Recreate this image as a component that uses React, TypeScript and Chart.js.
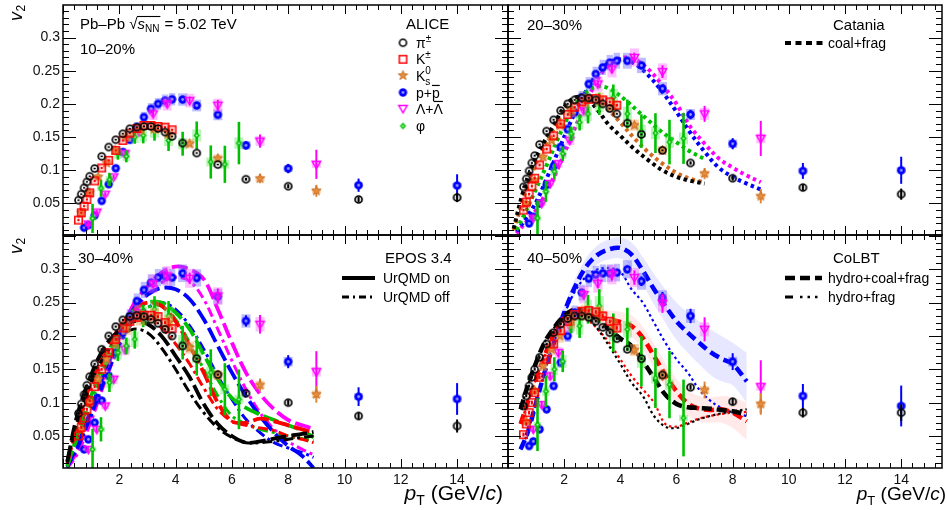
import React, { useEffect, useRef } from 'react';
import { Chart, registerables } from 'chart.js';

Chart.register(...registerables);

const FF = '"Liberation Sans", Arimo, Arial, Helvetica, sans-serif';

// ---------- pT bin centres (GeV/c) ----------
const piPt = [0.55, 0.65, 0.75, 0.85, 0.95, 1.125, 1.375, 1.625, 1.875, 2.125, 2.375, 2.625, 2.875, 3.125, 3.375, 3.625, 3.875, 4.25, 4.75, 5.5, 6.5, 8, 10.5, 14];
const kchPt = [0.55, 0.65, 0.75, 0.85, 0.95, 1.125, 1.375, 1.625, 1.875, 2.125, 2.375, 2.625, 2.875, 3.125, 3.375, 3.625, 3.875];
const k0Pt = [0.65, 0.95, 1.25, 1.55, 1.85, 2.25, 2.75, 3.25, 3.75, 4.5, 5.5, 7, 9];
const pPt = [0.75, 0.9, 1.125, 1.375, 1.625, 1.875, 2.125, 2.375, 2.625, 2.875, 3.125, 3.375, 3.625, 3.875, 4.25, 4.75, 5.5, 6.5, 8, 10.5, 14];
const lamPt = [0.9, 1.2, 1.5, 1.8, 2.2, 2.7, 3.2, 3.7, 4.5, 5.5, 7, 9];
const phiPt = [1.05, 1.35, 1.65, 1.95, 2.25, 2.55, 2.85, 3.25, 3.75, 4.25, 4.75, 5.25, 5.75, 6.25];

// ---------- v2, 10-20% ----------
const pi1020 = [0.055, 0.064, 0.0735, 0.0825, 0.091, 0.1026, 0.121, 0.135, 0.146, 0.155, 0.1626, 0.165, 0.166, 0.166, 0.163, 0.1575, 0.151, 0.141, 0.126, 0.1086, 0.0865, 0.076, 0.056, 0.059];
const kch1020 = [0.025, 0.036, 0.046, 0.056, 0.066, 0.084, 0.1035, 0.115, 0.13, 0.145, 0.156, 0.163, 0.1675, 0.1675, 0.166, 0.165, 0.161];
const k01020 = [0.036, 0.066, 0.09, 0.111, 0.13, 0.15, 0.162, 0.163, 0.155, 0.14, 0.118, 0.0875, 0.069];
const p1020 = [0.0135, 0.0175, 0.032, 0.054, 0.079, 0.103, 0.1275, 0.146, 0.165, 0.18, 0.1926, 0.2, 0.205, 0.207, 0.2066, 0.1976, 0.1836, 0.1376, 0.1026, 0.0775, 0.077];
const lam1020 = [0.019, 0.037, 0.064, 0.09, 0.125, 0.158, 0.185, 0.2, 0.205, 0.198, 0.144, 0.109];
const phi1020 = [0.0275, 0.073, 0.086, 0.125, 0.121, 0.15, 0.1525, 0.1586, 0.145, 0.14, 0.1525, 0.1125, 0.109, 0.141];

// ---------- v2, 20-30% ----------
const pi2030 = [0.075, 0.087, 0.099, 0.111, 0.122, 0.139, 0.159, 0.176, 0.19, 0.2, 0.206, 0.209, 0.209, 0.206, 0.2, 0.193, 0.185, 0.171, 0.154, 0.13, 0.111, 0.088, 0.074, 0.064];
const kch2030 = [0.04, 0.052, 0.064, 0.076, 0.088, 0.108, 0.132, 0.152, 0.17, 0.184, 0.195, 0.203, 0.207, 0.208, 0.206, 0.203, 0.198];
const k02030 = [0.05, 0.085, 0.12, 0.145, 0.168, 0.19, 0.205, 0.207, 0.196, 0.168, 0.13, 0.095, 0.061];
const p2030 = [0.02, 0.03, 0.05, 0.078, 0.106, 0.135, 0.162, 0.187, 0.21, 0.23, 0.245, 0.255, 0.262, 0.265, 0.265, 0.258, 0.223, 0.184, 0.14, 0.099, 0.1];
const lam2030 = [0.028, 0.05, 0.08, 0.11, 0.145, 0.19, 0.23, 0.2526, 0.27, 0.2486, 0.185, 0.148];
const phi2030 = [0.028, 0.068, 0.098, 0.125, 0.155, 0.172, 0.185, 0.2, 0.21, 0.185, 0.159, 0.156, 0.1425, 0.148];

// ---------- v2, 30-40% ----------
const pi3040 = [0.084, 0.098, 0.112, 0.126, 0.139, 0.158, 0.18, 0.2, 0.214, 0.224, 0.229, 0.231, 0.229, 0.225, 0.219, 0.21, 0.2, 0.185, 0.166, 0.142, 0.114, 0.1, 0.08, 0.065];
const kch3040 = [0.05, 0.063, 0.077, 0.09, 0.103, 0.124, 0.15, 0.175, 0.195, 0.212, 0.222, 0.228, 0.231, 0.231, 0.229, 0.22, 0.211];
const k03040 = [0.06, 0.1, 0.135, 0.165, 0.19, 0.212, 0.227, 0.23, 0.22, 0.1825, 0.1415, 0.1265, 0.1125];
const p3040 = [0.03, 0.045, 0.07, 0.103, 0.14, 0.175, 0.205, 0.23, 0.2524, 0.269, 0.28, 0.2875, 0.29, 0.2875, 0.294, 0.287, 0.259, 0.2225, 0.1614, 0.109, 0.1055];
const lam3040 = [0.03, 0.06, 0.095, 0.135, 0.18, 0.235, 0.278, 0.29, 0.2865, 0.26, 0.2175, 0.1464];
const phi3040 = [0.03, 0.06, 0.13, 0.175, 0.185, 0.195, 0.23, 0.24, 0.23, 0.19, 0.17, 0.145, 0.12, 0.105];

// ---------- v2, 40-50% ----------
const pi4050 = [0.095, 0.11, 0.125, 0.138, 0.15, 0.168, 0.188, 0.205, 0.218, 0.226, 0.23, 0.23, 0.228, 0.222, 0.213, 0.205, 0.196, 0.18, 0.166, 0.1415, 0.123, 0.1015, 0.085, 0.085];
const kch4050 = [0.052, 0.068, 0.085, 0.1, 0.115, 0.138, 0.165, 0.188, 0.208, 0.222, 0.232, 0.237, 0.238, 0.236, 0.23, 0.222, 0.212];
const k04050 = [0.072, 0.118, 0.155, 0.18, 0.2, 0.222, 0.235, 0.233, 0.215, 0.179, 0.1415, 0.119, 0.098];
const p4050 = [0.035, 0.042, 0.06, 0.09, 0.125, 0.16, 0.2, 0.235, 0.265, 0.286, 0.292, 0.294, 0.294, 0.295, 0.3, 0.282, 0.257, 0.23, 0.1615, 0.11, 0.095];
const lam4050 = [0.06, 0.097, 0.14, 0.175, 0.215, 0.262, 0.279, 0.292, 0.2875, 0.249, 0.21, 0.124];
const phi4050 = [0.067, 0.117, 0.15, 0.162, 0.22, 0.215, 0.24, 0.245, 0.205, 0.21, 0.162, 0.137, 0.127, 0.077];

// ---------- statistical uncertainties ----------
const piErr = [0.001, 0.001, 0.001, 0.001, 0.001, 0.001, 0.001, 0.001, 0.001, 0.001, 0.001, 0.001, 0.001, 0.001, 0.001, 0.001, 0.001, 0.001, 0.001, 0.001, 0.002, 0.003, 0.004, 0.007];
const kchErr = [0.0015, 0.0015, 0.0015, 0.0015, 0.0015, 0.0015, 0.0015, 0.0015, 0.0015, 0.0015, 0.0015, 0.0015, 0.0015, 0.0015, 0.0015, 0.0015, 0.0015];
const k0Err = [0.002, 0.002, 0.002, 0.002, 0.002, 0.002, 0.002, 0.003, 0.003, 0.004, 0.005, 0.007, 0.009];
const pErr = [0.002, 0.002, 0.002, 0.002, 0.002, 0.002, 0.002, 0.002, 0.002, 0.002, 0.002, 0.002, 0.002, 0.002, 0.003, 0.004, 0.005, 0.006, 0.007, 0.01, 0.017];
const lamErr = [0.003, 0.003, 0.003, 0.003, 0.003, 0.004, 0.004, 0.005, 0.006, 0.008, 0.01, 0.022];
const phiErr = [0.022, 0.013, 0.01, 0.009, 0.009, 0.01, 0.012, 0.014, 0.016, 0.018, 0.021, 0.025, 0.028, 0.032];
const errScale = [1, 1.2, 1.4, 1.8];

// ---------- Catania (20-30%) ----------
const catXa = [0.2, 0.5, 0.8, 1.2, 1.6, 2.0, 2.4, 2.8, 3.2, 3.6, 4.0, 4.5, 5.0, 5.5, 6.0, 6.5, 7.0];
const catPi = [0.012, 0.062, 0.1, 0.136, 0.166, 0.195, 0.21, 0.208, 0.19, 0.168, 0.152, 0.132, 0.115, 0.1, 0.09, 0.084, 0.08];
const catK = [0.01, 0.05, 0.09, 0.128, 0.16, 0.19, 0.207, 0.212, 0.205, 0.19, 0.172, 0.148, 0.127, 0.11, 0.096, 0.087, 0.082];
const catXb = [0.3, 0.6, 1.0, 1.4, 1.8, 2.2, 2.6, 3.0, 3.4, 3.8, 4.2, 4.6, 5.0, 5.5, 6.0, 6.5, 7.0];
const catPhi = [0.01, 0.035, 0.072, 0.11, 0.15, 0.185, 0.21, 0.224, 0.226, 0.218, 0.205, 0.19, 0.175, 0.157, 0.142, 0.128, 0.117];
const catXc = [0.3, 0.6, 1.0, 1.4, 1.8, 2.2, 2.6, 3.0, 3.4, 3.8, 4.2, 4.6, 5.0, 5.5, 6.0, 6.5, 7.0, 7.5, 8.0, 8.5, 9.0];
const catP = [0.008, 0.025, 0.052, 0.09, 0.13, 0.17, 0.205, 0.235, 0.256, 0.266, 0.266, 0.258, 0.243, 0.218, 0.188, 0.156, 0.128, 0.104, 0.09, 0.08, 0.071];
const catL = [0.005, 0.02, 0.04, 0.07, 0.105, 0.145, 0.185, 0.222, 0.25, 0.265, 0.27, 0.265, 0.252, 0.228, 0.2, 0.165, 0.14, 0.118, 0.104, 0.092, 0.082];

// ---------- EPOS 3.4 (30-40%) ----------
const epX = [0.15, 0.5, 1.0, 1.5, 2.0, 2.5, 3.0, 3.5, 4.0, 4.5, 5.0, 5.5, 6.0, 6.5, 7.0, 7.5, 8.0, 8.5, 8.9];
const epPiOn = [0.012, 0.08, 0.142, 0.185, 0.208, 0.222, 0.218, 0.2, 0.17, 0.138, 0.098, 0.068, 0.05, 0.04, 0.042, 0.046, 0.05, 0.053, 0.056];
const epPiOff = [0.01, 0.07, 0.13, 0.172, 0.198, 0.21, 0.205, 0.182, 0.15, 0.115, 0.085, 0.062, 0.048, 0.04, 0.04, 0.042, 0.045, 0.048, 0.05];
const epKOn = [0.01, 0.07, 0.13, 0.178, 0.212, 0.238, 0.25, 0.245, 0.222, 0.185, 0.145, 0.1, 0.072, 0.07, 0.076, 0.072, 0.066, 0.06, 0.055];
const epKOff = [0.008, 0.062, 0.12, 0.168, 0.2, 0.222, 0.226, 0.212, 0.188, 0.158, 0.122, 0.09, 0.072, 0.066, 0.062, 0.058, 0.05, 0.045, 0.04];
const epPhiOn = [0.005, 0.05, 0.11, 0.165, 0.208, 0.238, 0.25, 0.25, 0.235, 0.21, 0.172, 0.135, 0.107, 0.092, 0.082, 0.074, 0.066, 0.058, 0.048];
const epPhiOff = [0.004, 0.045, 0.1, 0.155, 0.198, 0.228, 0.243, 0.245, 0.225, 0.19, 0.15, 0.11, 0.08, 0.068, 0.06, 0.055, 0.05, 0.046, 0.043];
const epPOn = [0.004, 0.035, 0.09, 0.15, 0.2, 0.24, 0.262, 0.272, 0.27, 0.255, 0.225, 0.185, 0.145, 0.11, 0.08, 0.055, 0.035, 0.02, 0.002];
const epPOff = [0.003, 0.03, 0.08, 0.135, 0.185, 0.222, 0.242, 0.25, 0.24, 0.215, 0.18, 0.14, 0.105, 0.075, 0.055, 0.04, 0.032, 0.025, 0.018];
const epLOn = [0.002, 0.028, 0.082, 0.145, 0.198, 0.247, 0.274, 0.295, 0.304, 0.3, 0.285, 0.24, 0.19, 0.145, 0.113, 0.09, 0.074, 0.066, 0.061];
const epLOff = [0.002, 0.022, 0.072, 0.132, 0.185, 0.232, 0.262, 0.28, 0.288, 0.282, 0.255, 0.21, 0.163, 0.12, 0.085, 0.06, 0.042, 0.03, 0.022];

// ---------- CoLBT (40-50%) ----------
const colX = [0.45, 0.7, 1.0, 1.3, 1.6, 2.0, 2.4, 2.8, 3.2, 3.6, 4.0, 4.4, 4.8, 5.2, 5.6, 6.0, 6.4, 6.8, 7.2, 7.6, 8.0, 8.5];
const colPiCoal = [0.09, 0.125, 0.16, 0.19, 0.21, 0.23, 0.24, 0.235, 0.224, 0.21, 0.196, 0.185, 0.162, 0.137, 0.112, 0.098, 0.093, 0.092, 0.091, 0.089, 0.087, 0.082];
const colPiFrag = [0.09, 0.125, 0.16, 0.19, 0.21, 0.228, 0.235, 0.228, 0.21, 0.185, 0.158, 0.13, 0.11, 0.08, 0.064, 0.062, 0.068, 0.075, 0.08, 0.084, 0.087, 0.09];
const colKCoal = [0.068, 0.1, 0.135, 0.17, 0.2, 0.228, 0.236, 0.232, 0.228, 0.225, 0.221, 0.215, 0.197, 0.17, 0.142, 0.117, 0.099, 0.091, 0.089, 0.09, 0.085, 0.072];
const colKFrag = [0.068, 0.1, 0.135, 0.17, 0.2, 0.226, 0.232, 0.225, 0.21, 0.19, 0.165, 0.14, 0.12, 0.1, 0.068, 0.064, 0.07, 0.076, 0.08, 0.083, 0.085, 0.086];
const colPCoal = [0.03, 0.055, 0.1, 0.145, 0.185, 0.235, 0.275, 0.305, 0.322, 0.33, 0.332, 0.322, 0.298, 0.27, 0.245, 0.222, 0.205, 0.19, 0.176, 0.166, 0.158, 0.132];
const colPFrag = [0.03, 0.055, 0.1, 0.145, 0.185, 0.232, 0.268, 0.29, 0.3, 0.302, 0.296, 0.27, 0.25, 0.22, 0.19, 0.165, 0.145, 0.12, 0.103, 0.092, 0.085, 0.08];
const colPBandHi = [0.035, 0.06, 0.106, 0.152, 0.193, 0.245, 0.287, 0.318, 0.336, 0.345, 0.348, 0.34, 0.318, 0.293, 0.27, 0.25, 0.235, 0.222, 0.21, 0.2, 0.19, 0.175];
const colPBandLo = [0.025, 0.05, 0.094, 0.138, 0.177, 0.225, 0.263, 0.292, 0.308, 0.315, 0.316, 0.304, 0.278, 0.247, 0.22, 0.194, 0.175, 0.158, 0.142, 0.132, 0.126, 0.1];
const colKBandHi = [0.072, 0.104, 0.14, 0.175, 0.205, 0.234, 0.244, 0.242, 0.24, 0.238, 0.236, 0.231, 0.214, 0.188, 0.16, 0.136, 0.118, 0.11, 0.108, 0.11, 0.108, 0.1];
const colKBandLo = [0.064, 0.096, 0.13, 0.165, 0.195, 0.222, 0.228, 0.222, 0.216, 0.212, 0.206, 0.199, 0.18, 0.152, 0.124, 0.098, 0.08, 0.072, 0.07, 0.07, 0.062, 0.044];

// ---------- axis tick labels ----------
const xTickVals = [2, 4, 6, 8, 10, 12, 14];
const yTickVals = [0.05, 0.1, 0.15, 0.2, 0.25, 0.3];

// ---------- styles ----------
const COL: any = { pi: '#000000', kch: '#ff0000', k0: '#e0873a', p: '#0000ff', lam: '#ff00ff', phi: '#00c000' };
const BOX: any = {
  pi: 'rgba(110,110,110,0.25)', kch: 'rgba(255,90,90,0.3)', k0: 'rgba(245,160,80,0.45)',
  p: 'rgba(90,90,255,0.4)', lam: 'rgba(255,90,255,0.38)', phi: 'rgba(70,225,70,0.38)'
};
const SYS: any = { pi: 0.03, kch: 0.03, k0: 0.05, p: 0.045, lam: 0.05, phi: 0.06 };

function mk(draw: (c: CanvasRenderingContext2D) => void, size = 13) {
  const cv = document.createElement('canvas');
  cv.width = size; cv.height = size;
  const c = cv.getContext('2d')!;
  c.translate(size / 2, size / 2);
  draw(c);
  return cv;
}

function makeMarkers() {
  return {
    pi: mk(c => { c.beginPath(); c.arc(0, 0, 3.5, 0, Math.PI * 2); c.lineWidth = 1.6; c.strokeStyle = '#000'; c.stroke(); }),
    kch: mk(c => { c.lineWidth = 1.5; c.strokeStyle = '#ff0000'; c.strokeRect(-3.7, -3.7, 7.4, 7.4); }),
    k0: mk(c => {
      c.beginPath();
      for (let i = 0; i < 10; i++) {
        const r = i % 2 === 0 ? 5 : 2.1;
        const a = -Math.PI / 2 + (i * Math.PI) / 5;
        const x = r * Math.cos(a), y = r * Math.sin(a);
        if (i === 0) c.moveTo(x, y); else c.lineTo(x, y);
      }
      c.closePath(); c.fillStyle = '#e68e3c'; c.fill(); c.lineWidth = 0.8; c.strokeStyle = '#c0641a'; c.stroke();
    }),
    p: mk(c => {
      c.beginPath(); c.arc(0, 0, 4.2, 0, Math.PI * 2); c.fillStyle = '#0000ff'; c.fill();
      c.beginPath(); c.arc(0, 0, 1.4, 0, Math.PI * 2); c.fillStyle = '#9a9aff'; c.fill();
    }),
    lam: mk(c => {
      c.beginPath(); c.moveTo(-4.2, -3); c.lineTo(4.2, -3); c.lineTo(0, 4.3); c.closePath();
      c.lineWidth = 1.5; c.strokeStyle = '#ff00ff'; c.stroke();
    }),
    phi: mk(c => {
      c.beginPath(); c.moveTo(0, -3.6); c.lineTo(3.2, 0); c.lineTo(0, 3.6); c.lineTo(-3.2, 0); c.closePath();
      c.fillStyle = '#00c000'; c.fill();
      c.beginPath(); c.arc(0, 0, 1.1, 0, Math.PI * 2); c.fillStyle = '#b8ffb8'; c.fill();
    }),
  } as any;
}

type Part = { s: string; size?: number; it?: boolean; dy?: number; over?: boolean; stay?: boolean; dx?: number };
function rich(ctx: CanvasRenderingContext2D, x: number, y: number, parts: Part[], base = 15, draw = true) {
  ctx.textBaseline = 'alphabetic';
  ctx.textAlign = 'left';
  ctx.fillStyle = '#000';
  let cx = x;
  for (const p of parts) {
    const size = p.size ?? base;
    ctx.font = `${p.it ? 'italic ' : ''}${size}px ${FF}`;
    cx += p.dx ?? 0;
    const yy = y + (p.dy ?? 0);
    if (draw) ctx.fillText(p.s, cx, yy);
    const w = ctx.measureText(p.s).width;
    if (p.over && draw) {
      ctx.strokeStyle = '#000'; ctx.lineWidth = 1.2;
      ctx.beginPath(); ctx.moveTo(cx, yy - size * 0.86); ctx.lineTo(cx + w, yy - size * 0.86); ctx.stroke();
    }
    if (!p.stay) cx += w;
  }
  return cx;
}

function legLine(ctx: CanvasRenderingContext2D, x1: number, x2: number, y: number, w: number, dash: number[]) {
  ctx.save();
  ctx.strokeStyle = '#000'; ctx.lineWidth = w; ctx.setLineDash(dash); ctx.lineCap = 'butt';
  ctx.beginPath(); ctx.moveTo(x1, y); ctx.lineTo(x2, y); ctx.stroke();
  ctx.restore();
}

function pts(sp: string, xs: number[], ys: number[], errs: number[], k: number, markers: any) {
  return {
    type: 'scatter', label: sp,
    data: xs.map((x, i) => ({ x, y: ys[i] })),
    pointStyle: markers[sp], pointRadius: 4, pointHoverRadius: 4,
    borderColor: COL[sp], backgroundColor: COL[sp],
    order: 0, errs, errK: k, sysFrac: SYS[sp], boxColor: BOX[sp], barColor: COL[sp],
    barWidth: sp === 'phi' ? 2.6 : 2,
  };
}

function curve(xs: number[], ys: number[], color: string, dash: number[], width: number, order = 10) {
  return {
    type: 'line', data: xs.map((x, i) => ({ x, y: ys[i] })),
    borderColor: color, borderWidth: width, borderDash: dash, borderCapStyle: 'butt',
    pointRadius: 0, pointHoverRadius: 0, fill: false, tension: 0.35, order,
  };
}

function band(xs: number[], hi: number[], lo: number[], color: string) {
  return [
    { type: 'line', data: xs.map((x, i) => ({ x, y: hi[i] })), borderWidth: 0, borderColor: 'rgba(0,0,0,0)', pointRadius: 0, fill: false, tension: 0.35, order: 20 },
    { type: 'line', data: xs.map((x, i) => ({ x, y: lo[i] })), borderWidth: 0, borderColor: 'rgba(0,0,0,0)', pointRadius: 0, fill: '-1', backgroundColor: color, tension: 0.35, order: 20 },
  ];
}

const DOT = [3.5, 3.5];
const ON = [16, 5];
const OFF = [10, 4, 3, 4];
const COAL = [10, 5];
const FRAG = [2.5, 3];

function speciesSets(idx: number, m: any, v: any) {
  const k = errScale[idx];
  return [
    pts('pi', piPt, v.pi, piErr, k, m),
    pts('kch', kchPt, v.kch, kchErr, k, m),
    pts('k0', k0Pt, v.k0, k0Err, k, m),
    pts('phi', phiPt, v.phi, phiErr, k, m),
    pts('lam', lamPt, v.lam, lamErr, k, m),
    pts('p', pPt, v.p, pErr, k, m),
  ];
}

function legendTL(ctx: CanvasRenderingContext2D, m: any) {
  rich(ctx, 80, 28.5, [{ s: 'Pb–Pb ' }, { s: '√' }]);
  ctx.font = `15px ${FF}`;
  const x0 = 80 + ctx.measureText('Pb–Pb ').width;
  const xr = x0 + ctx.measureText('√').width - 0.5;
  const xe = rich(ctx, xr + 0.5, 28.5, [{ s: 's', it: true }, { s: 'NN', size: 10, dy: 3.5 }]);
  ctx.strokeStyle = '#000'; ctx.lineWidth = 1.1;
  ctx.beginPath(); ctx.moveTo(xr, 16.5); ctx.lineTo(xe + 1, 16.5); ctx.stroke();
  rich(ctx, xe + 1, 28.5, [{ s: ' = 5.02 TeV' }]);
  rich(ctx, 80, 53.5, [{ s: '10–20%' }]);
  rich(ctx, 406, 28.5, [{ s: 'ALICE' }]);
  const ys = [42.7, 59.3, 75.5, 92.5, 108.5, 126];
  const keys = ['pi', 'kch', 'k0', 'p', 'lam', 'phi'];
  keys.forEach((k, i) => {
    const img = m[k];
    ctx.drawImage(img, 403 - img.width / 2, ys[i] - img.height / 2);
  });
  const b = (i: number) => ys[i] + 5;
  rich(ctx, 416, b(0), [{ s: 'π' }, { s: '±', size: 10, dy: -6 }], 14);
  rich(ctx, 416, b(1), [{ s: 'K' }, { s: '±', size: 10, dy: -6 }], 14);
  rich(ctx, 416, b(2), [{ s: 'K' }, { s: '0', size: 10, dy: -7, stay: true }, { s: 's', size: 10, dy: 4 }], 14);
  rich(ctx, 416, b(3), [{ s: 'p+' }, { s: 'p', over: true }], 14);
  rich(ctx, 416, b(4), [{ s: 'Λ+' }, { s: 'Λ', over: true }], 14);
  rich(ctx, 416, b(5), [{ s: 'φ' }], 14);
}

function legendTR(ctx: CanvasRenderingContext2D) {
  rich(ctx, 527, 29.5, [{ s: '20–30%' }]);
  rich(ctx, 833, 29.5, [{ s: 'Catania' }]);
  legLine(ctx, 785, 823, 43, 4, [6, 4.5]);
  rich(ctx, 828, 48, [{ s: 'coal+frag' }], 14);
}

function legendBL(ctx: CanvasRenderingContext2D) {
  rich(ctx, 78, 262.5, [{ s: '30–40%' }]);
  rich(ctx, 385, 262.5, [{ s: 'EPOS 3.4' }]);
  legLine(ctx, 342, 375, 278, 4, []);
  rich(ctx, 383, 283, [{ s: 'UrQMD on' }], 14);
  legLine(ctx, 342, 375, 297, 3, [7, 4, 2, 4]);
  rich(ctx, 383, 302, [{ s: 'UrQMD off' }], 14);
}

function legendBR(ctx: CanvasRenderingContext2D) {
  rich(ctx, 527, 262.5, [{ s: '40–50%' }]);
  rich(ctx, 833, 262.5, [{ s: 'CoLBT' }]);
  legLine(ctx, 785, 822, 278, 4.5, [10, 5]);
  rich(ctx, 828, 283, [{ s: 'hydro+coal+frag' }], 14);
  legLine(ctx, 785, 793, 297, 3, []);
  legLine(ctx, 800, 822, 297, 2.5, [2.5, 5]);
  rich(ctx, 828, 302, [{ s: 'hydro+frag' }], 14);
}

function v2Label(ctx: CanvasRenderingContext2D, y: number) {
  ctx.save();
  ctx.translate(22, y);
  ctx.rotate(-Math.PI / 2);
  ctx.fillStyle = '#000';
  ctx.textBaseline = 'alphabetic';
  ctx.font = `italic 18px ${FF}`;
  ctx.fillText('v', 0, 0);
  const w = ctx.measureText('v').width;
  ctx.font = `12px ${FF}`;
  ctx.fillText('2', w + 0.5, 3);
  ctx.restore();
}

// axis title p_T (GeV/c), right-aligned at xRight
function ptTitle(ctx: CanvasRenderingContext2D, xRight: number, size: number) {
  const parts: Part[] = [
    { s: 'p', it: true }, { s: 'T', size: Math.round(size * 0.68), dy: 5 }, { s: ' (GeV/' }, { s: 'c', it: true }, { s: ')' },
  ];
  const w = rich(ctx, 0, 0, parts, size, false);
  rich(ctx, xRight - w, 500, parts, size);
}

const PANELS = [
  { key: 'tl', left: 63, top: 4, right: 508, bottom: 235, yMin: 0.0025, yMax: 0.349, showX: false, showY: true },
  { key: 'tr', left: 508, top: 4, right: 943, bottom: 235, yMin: 0.0025, yMax: 0.349, showX: false, showY: false },
  { key: 'bl', left: 63, top: 235, right: 508, bottom: 468, yMin: 0.002, yMax: 0.3514, showX: true, showY: true },
  { key: 'br', left: 508, top: 235, right: 943, bottom: 468, yMin: 0.002, yMax: 0.3514, showX: true, showY: false },
];
const PX_PER_GEV = 28.15;

function buildConfig(idx: number, m: any) {
  const P = PANELS[idx];
  const xMax = (P.right - P.left) / PX_PER_GEV;
  let datasets: any[] = [];
  if (idx === 0) {
    datasets = speciesSets(0, m, { pi: pi1020, kch: kch1020, k0: k01020, p: p1020, lam: lam1020, phi: phi1020 });
  } else if (idx === 1) {
    datasets = [
      ...speciesSets(1, m, { pi: pi2030, kch: kch2030, k0: k02030, p: p2030, lam: lam2030, phi: phi2030 }),
      curve(catXa, catPi, '#000000', DOT, 4),
      curve(catXa, catK, '#d2691e', DOT, 4),
      curve(catXb, catPhi, '#00c000', DOT, 4),
      curve(catXc, catP, '#0000ff', DOT, 4),
      curve(catXc, catL, '#ff00ff', DOT, 4),
    ];
  } else if (idx === 2) {
    datasets = [
      ...speciesSets(2, m, { pi: pi3040, kch: kch3040, k0: k03040, p: p3040, lam: lam3040, phi: phi3040 }),
      curve(epX, epPiOn, '#000000', ON, 3.8),
      curve(epX, epPiOff, '#000000', OFF, 3),
      curve(epX, epKOn, '#ff0000', ON, 3.8),
      curve(epX, epKOff, '#ff0000', OFF, 3),
      curve(epX, epPhiOn, '#00c000', ON, 3.8),
      curve(epX, epPhiOff, '#00c000', OFF, 3),
      curve(epX, epPOn, '#0000ff', ON, 3.8),
      curve(epX, epPOff, '#0000ff', OFF, 3),
      curve(epX, epLOn, '#ff00ff', ON, 3.8),
      curve(epX, epLOff, '#ff00ff', OFF, 3),
    ];
  } else {
    datasets = [
      ...speciesSets(3, m, { pi: pi4050, kch: kch4050, k0: k04050, p: p4050, lam: lam4050, phi: phi4050 }),
      curve(colX, colPiCoal, '#000000', COAL, 4.5),
      curve(colX, colPiFrag, '#000000', FRAG, 2.2),
      curve(colX, colKCoal, '#ff0000', COAL, 4.5),
      curve(colX, colKFrag, '#ff0000', FRAG, 2.2),
      curve(colX, colPCoal, '#0000ff', COAL, 4.5),
      curve(colX, colPFrag, '#0000ff', FRAG, 2.2),
      ...band(colX, colPBandHi, colPBandLo, 'rgba(70,70,255,0.13)'),
      ...band(colX, colKBandHi, colKBandLo, 'rgba(255,70,70,0.12)'),
    ];
  }

  const deco = {
    id: 'deco_' + P.key,
    beforeDatasetDraw(chart: any, args: any) {
      const ds = chart.data.datasets[args.index];
      if (!ds.errs) return;
      const ctx = chart.ctx as CanvasRenderingContext2D;
      const xs = chart.scales.x, ys = chart.scales.y, a = chart.chartArea;
      ctx.save();
      ctx.beginPath(); ctx.rect(a.left, a.top, a.right - a.left, a.bottom - a.top); ctx.clip();
      const pxs = ds.data.map((d: any) => xs.getPixelForValue(d.x));
      ds.data.forEach((d: any, i: number) => {
        const gapL = i > 0 ? pxs[i] - pxs[i - 1] : 99;
        const gapR = i < pxs.length - 1 ? pxs[i + 1] - pxs[i] : 99;
        const hw = Math.min(4.5, 0.45 * Math.min(gapL, gapR));
        const s = Math.max(d.y * ds.sysFrac, 0.004);
        const y1 = ys.getPixelForValue(d.y + s), y2 = ys.getPixelForValue(d.y - s);
        ctx.fillStyle = ds.boxColor;
        ctx.fillRect(pxs[i] - hw, y1, 2 * hw, y2 - y1);
      });
      ctx.strokeStyle = ds.barColor; ctx.lineWidth = ds.barWidth;
      ds.data.forEach((d: any, i: number) => {
        const e = ds.errs[i] * ds.errK;
        ctx.beginPath();
        ctx.moveTo(pxs[i], ys.getPixelForValue(d.y + e));
        ctx.lineTo(pxs[i], ys.getPixelForValue(d.y - e));
        ctx.stroke();
      });
      ctx.restore();
    },
    afterDraw(chart: any) {
      const ctx = chart.ctx as CanvasRenderingContext2D;
      const a = chart.chartArea;
      const xs = chart.scales.x, ys = chart.scales.y;
      ctx.save();
      ctx.strokeStyle = '#000';
      ctx.lineWidth = 1;
      ctx.beginPath();
      for (let i = 0; i * 0.4 <= xs.max + 1e-9; i++) {
        const px = Math.round(xs.getPixelForValue(i * 0.4)) + 0.5;
        const L = i % 5 === 0 ? 9 : 5;
        ctx.moveTo(px, a.bottom); ctx.lineTo(px, a.bottom - L);
        ctx.moveTo(px, a.top); ctx.lineTo(px, a.top + L);
      }
      for (let i = 1; i * 0.01 <= ys.max + 1e-9; i++) {
        const v = i * 0.01;
        if (v < ys.min) continue;
        const py = Math.round(ys.getPixelForValue(v)) + 0.5;
        const L = i % 5 === 0 ? 13 : 6;
        ctx.moveTo(a.left, py); ctx.lineTo(a.left + L, py);
        ctx.moveTo(a.right, py); ctx.lineTo(a.right - L, py);
      }
      ctx.stroke();
      ctx.lineWidth = 1.5;
      ctx.strokeRect(a.left, a.top, a.right - a.left, a.bottom - a.top);
      ctx.restore();
      ctx.save();
      if (idx === 0) { legendTL(ctx, m); v2Label(ctx, 21); }
      if (idx === 1) legendTR(ctx);
      if (idx === 2) { legendBL(ctx); v2Label(ctx, 254); ptTitle(ctx, 503, 21); }
      if (idx === 3) { legendBR(ctx); ptTitle(ctx, 946, 19); }
      ctx.restore();
    },
  };

  const zeroPad = (s: any) => { s.paddingLeft = 0; s.paddingRight = 0; s.paddingTop = 0; s.paddingBottom = 0; };

  return {
    type: 'scatter',
    data: { datasets },
    options: {
      responsive: false,
      animation: false,
      devicePixelRatio: 1,
      events: [],
      layout: {
        padding: {
          left: P.showY ? 0 : P.left,
          top: P.top,
          right: 947 - P.right,
          bottom: P.showX ? 0 : 510 - P.bottom,
        },
      },
      plugins: { legend: { display: false }, tooltip: { enabled: false }, title: { display: false } },
      scales: {
        x: {
          type: 'linear', min: 0, max: xMax, display: P.showX, position: 'bottom',
          grid: { display: false, drawTicks: false }, border: { display: false },
          ticks: { font: { size: 14, family: FF }, color: '#111', padding: 4, maxRotation: 0, autoSkip: false, callback: (v: any) => String(v) },
          afterBuildTicks: (s: any) => { s.ticks = xTickVals.map(v => ({ value: v })); },
          afterFit: (s: any) => { s.height = P.showX ? 510 - P.bottom : 0; zeroPad(s); },
        },
        y: {
          type: 'linear', min: P.yMin, max: P.yMax, display: P.showY, position: 'left',
          grid: { display: false, drawTicks: false }, border: { display: false },
          ticks: { font: { size: 14, family: FF }, color: '#111', padding: 3, autoSkip: false, callback: (v: any) => String(parseFloat(Number(v).toFixed(2))) },
          afterBuildTicks: (s: any) => { s.ticks = yTickVals.map(v => ({ value: v })); },
          afterFit: (s: any) => { s.width = P.showY ? P.left : 0; zeroPad(s); },
        },
      },
    },
    plugins: [deco],
  } as any;
}

export default function App() {
  const refs = useRef<(HTMLCanvasElement | null)[]>([]);
  useEffect(() => {
    const m = makeMarkers();
    const charts = PANELS.map((_, i) => new Chart(refs.current[i] as HTMLCanvasElement, buildConfig(i, m)));
    return () => charts.forEach(c => c.destroy());
  }, []);
  return (
    <div style={{ position: 'absolute', left: 0, top: 0, width: 947, height: 510, background: '#fff', overflow: 'hidden' }}>
      {PANELS.map((p, i) => (
        <canvas
          key={p.key}
          ref={el => { refs.current[i] = el; }}
          width={947}
          height={510}
          style={{ position: 'absolute', left: 0, top: 0, width: 947, height: 510 }}
        />
      ))}
    </div>
  );
}
